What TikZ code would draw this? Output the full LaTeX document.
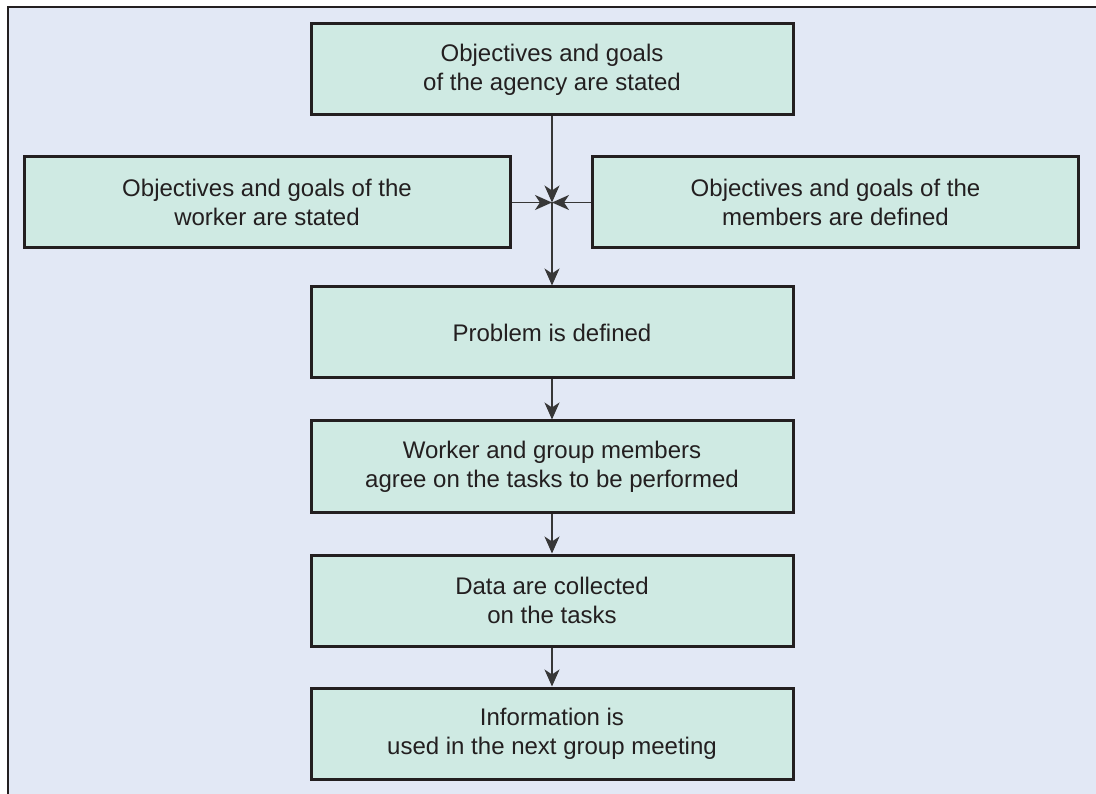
\documentclass[tikz,border=0pt]{standalone}
\usepackage{fontspec}
\setmainfont{Liberation Sans}
\usetikzlibrary{arrows.meta}
\definecolor{pagebg}{RGB}{226,232,245}
\definecolor{boxfill}{RGB}{207,234,227}
\definecolor{ink}{RGB}{35,31,32}
\definecolor{wire}{RGB}{55,55,55}
\tikzset{
  stepbox/.style={draw=ink, line width=3pt, fill=boxfill, text=ink, align=center,
    inner sep=0pt, font=\fontsize{24}{29}\selectfont, minimum height=91pt},
  widebox/.style={stepbox, minimum width=482pt},
  sidebox/.style={stepbox, minimum width=486pt},
  flow/.style={draw=wire, line width=1.5pt, -{Stealth[length=17pt,width=15pt,inset=5pt]}},
  frameline/.style={draw=ink, line width=2pt},
}
\begin{document}
\begin{tikzpicture}[x=1pt,y=-1pt]
  \useasboundingbox (0,0) rectangle (1096,794);
  % page and panel background
  \fill[white] (0,0) rectangle (1096,794);
  \fill[pagebg] (7.5,7.5) rectangle (1096,794);
  \draw[frameline] (7.5,794) -- (7.5,7.5) -- (1096,7.5);

  % steps
  \node[widebox] (agency) at (552,69.5) {Objectives and goals\\of the agency are stated};
  \node[sidebox] (worker) at (267,202.5) {Objectives and goals of the\\worker are stated};
  \node[sidebox] (members) at (835.5,202.5) {Objectives and goals of the\\members are defined};
  \node[widebox] (problem) at (552,332.5) {Problem is defined};
  \node[widebox] (tasks) at (552,466.5) {Worker and group members\\agree on the tasks to be performed};
  \node[widebox] (data) at (552,600.5) {Data are collected\\on the tasks};
  \node[widebox] (info) at (552,733.5) {Information is\\used in the next group meeting};

  % meeting point of the three goal statements
  \coordinate (meet) at (552,202.5);

  % connectors
  \draw[flow] (agency.south) -- (meet);
  \draw[flow] (worker.east) -- (meet);
  \draw[flow] (members.west) -- (meet);
  \draw[flow] (meet) -- (problem.north);
  \draw[flow] (problem.south) -- (tasks.north);
  \draw[flow] (tasks.south) -- (data.north);
  \draw[flow] (data.south) -- (info.north);
\end{tikzpicture}
\end{document}
